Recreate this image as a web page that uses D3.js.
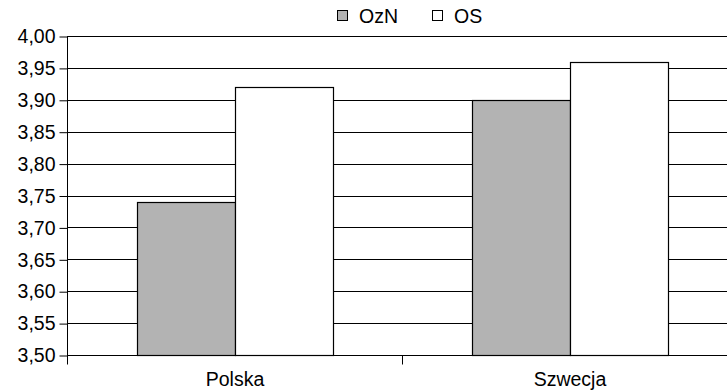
<!DOCTYPE html>
<html><head><meta charset="utf-8">
<script src="https://cdn.jsdelivr.net/npm/d3@7"></script>
<style>body{margin:0;background:#fff}svg{display:block;font-family:"Liberation Sans",Arial,sans-serif}</style>
</head><body>
<svg id="c" width="727" height="391"></svg>
<script>
const categories = ["Polska", "Szwecja"];
const seriesNames = ["OzN", "OS"];
const ozn = [3.74, 3.90];
const os = [3.92, 3.96];
const yTicks = [3.50, 3.55, 3.60, 3.65, 3.70, 3.75, 3.80, 3.85, 3.90, 3.95, 4.00];
const colors = ["#b3b3b3", "#ffffff"];

const svg = d3.select("#c");
const L = 67, R = 737, T = 36, B = 355;
const FS = 19.5;
const x = d3.scaleBand().domain(categories).range([L, R]);
const xs = d3.scaleBand().domain(seriesNames).range([0, x.bandwidth()]).paddingOuter(0.71).paddingInner(0);
const y = d3.scaleLinear().domain([3.5, 4.0]).range([B, T]);
const fmt = d => d.toFixed(2).replace(".", ",");

// gridlines
svg.append("g").selectAll("line").data(yTicks).join("line")
  .attr("x1", L).attr("x2", R).attr("y1", d => Math.round(y(d)) + 0.5).attr("y2", d => Math.round(y(d)) + 0.5)
  .attr("stroke", "#000").attr("stroke-width", 1);

// bars
const data = categories.map((c, i) => ({c, vals: [ozn[i], os[i]]}));
const g = svg.append("g");
data.forEach(d => {
  d.vals.forEach((v, j) => {
    const x0 = Math.round(x(d.c) + xs(seriesNames[j]));
    const w = Math.round(xs.bandwidth());
    g.append("rect").attr("x", x0 + 0.5).attr("y", Math.round(y(v)) + 0.5)
      .attr("width", w).attr("height", Math.round(y(3.5)) - Math.round(y(v)))
      .attr("fill", colors[j]).attr("stroke", "#000").attr("stroke-width", 1.2);
  });
});

// y axis
const yAxis = d3.axisLeft(y).tickValues(yTicks).tickFormat(fmt).tickSize(8).tickPadding(4);
const ya = svg.append("g").attr("transform", `translate(${L + 0.5},0.5)`).call(yAxis);
ya.select(".domain").attr("d", `M0,${T}V${B + 9}`).attr("stroke", "#000");
ya.selectAll("text").attr("font-size", FS).attr("fill", "#000").attr("font-family", "Liberation Sans, Arial, sans-serif");
ya.selectAll("line").attr("stroke", "#000");

// x axis
const xa = svg.append("g").attr("transform", `translate(0.5,${Math.round(B) + 0.5})`);
xa.append("line").attr("x1", L).attr("x2", R).attr("stroke", "#000");
xa.selectAll(".tk").data(categories.slice(1)).join("line")
  .attr("x1", d => Math.round(x(d))).attr("x2", d => Math.round(x(d))).attr("y1", 0).attr("y2", 9).attr("stroke", "#000");
xa.selectAll("text").data(categories).join("text")
  .attr("x", d => x(d) + x.bandwidth() / 2).attr("y", 30)
  .attr("text-anchor", "middle").attr("font-size", FS).attr("fill", "#000").text(d => d);

// legend
const leg = svg.append("g");
const lx = [337, 432];
seriesNames.forEach((s, i) => {
  leg.append("rect").attr("x", lx[i] + 0.5).attr("y", 10.5).attr("width", 10).attr("height", 10)
    .attr("fill", colors[i]).attr("stroke", "#000");
  leg.append("text").attr("x", lx[i] + 22).attr("y", 23).attr("font-size", FS).attr("fill", "#000").text(s);
});
</script>
</body></html>
